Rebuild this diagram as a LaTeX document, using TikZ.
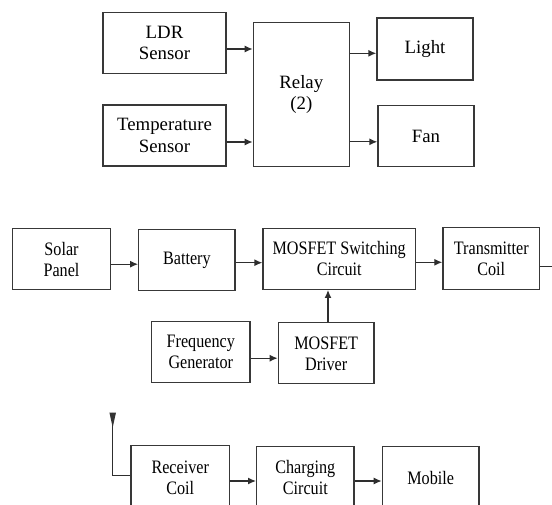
\documentclass[tikz,border=0pt]{standalone}
\usepackage{fontspec}
\setmainfont{Liberation Serif}
\newfontfamily\narrowserif[FakeStretch=0.85]{Liberation Serif}
\usetikzlibrary{arrows.meta}

\begin{document}
\begin{tikzpicture}[x=1pt, y=-1pt,
    blk/.style={draw=black!78, line width=1.3pt, inner sep=0pt, align=center,
        minimum width=97pt, minimum height=61pt, font=\narrowserif\fontsize{19}{21}\selectfont},
    big/.style={font=\fontsize{18.8}{21.5}\selectfont},
    wire/.style={line width=1.3pt, draw=black!82},
    arr/.style={wire, -{Latex[length=8pt,width=7pt]}}]

    \useasboundingbox (0,0) rectangle (552,504);
    \clip (0,0) rectangle (552,504);

    % Relay part
    \node[blk, big, minimum width=123pt] (ldr) at (164.5,43) {LDR\\Sensor};
    \node[blk, big, minimum width=123pt] (temp) at (164.5,135.5) {Temperature\\Sensor};
    \node[blk, big, minimum width=96pt, minimum height=144pt] (relay) at (301.3,94.7) {Relay\\(2)};
    \node[blk, big, minimum width=96pt, minimum height=62pt] (light) at (425,49) {Light};
    \node[blk, big, minimum width=96pt] (fan) at (426,136.3) {Fan};

    \draw[arr] ([yshift=-6pt]ldr.east) -- ([yshift=-6pt]ldr.east -| relay.west);
    \draw[arr] ([yshift=-6.5pt]temp.east) -- ([yshift=-6.5pt]temp.east -| relay.west);
    \draw[arr] ([yshift=-4.3pt]light.west -| relay.east) -- ([yshift=-4.3pt]light.west);
    \draw[arr] ([yshift=-5.5pt]fan.west -| relay.east) -- ([yshift=-5.5pt]fan.west);

    % Transmitter part
    \node[blk, minimum width=98.4pt] (solar) at (61.5,259.2) {Solar\\Panel};
    \node[blk, minimum width=96.3pt] (battery) at (186.9,260) {Battery};
    \node[blk, minimum width=152.3pt] (mosfet) at (339.2,258.8) {MOSFET Switching\\Circuit};
    \node[blk, minimum width=96.7pt, minimum height=62pt] (tx) at (491.3,258.3) {Transmitter\\Coil};
    \node[blk, minimum width=98.3pt] (freq) at (200.8,352.2) {Frequency\\Generator};
    \node[blk, minimum width=95.7pt] (driver) at (326.2,353.3) {MOSFET\\Driver};

    \draw[arr] ([yshift=-5pt]solar.east) -- ([yshift=-5pt]solar.east -| battery.west);
    \draw[arr] ([yshift=-2.7pt]battery.east) -- ([yshift=-2.7pt]battery.east -| mosfet.west);
    \draw[arr] ([yshift=-3.5pt]mosfet.east) -- ([yshift=-3.5pt]mosfet.east -| tx.west);
    \draw[arr] ([yshift=-6pt]freq.east) -- ([yshift=-6pt]freq.east -| driver.west);
    \draw[arr] ([xshift=1.8pt]driver.north) -- ([xshift=1.8pt]driver.north |- mosfet.south);

    \coordinate (txend) at (556,266.7);
    \draw[wire] (tx.east |- txend) -- (txend);

    % Receiver part
    \node[blk, minimum width=98.3pt, minimum height=64pt] (rx) at (180.2,477.7) {Receiver\\Coil};
    \node[blk, minimum width=97.3pt, minimum height=62pt] (charge) at (305.3,477.7) {Charging\\Circuit};
    \node[blk, minimum width=96.7pt, minimum height=62pt] (mobile) at (430.7,477.7) {Mobile};

    \draw[arr] ([yshift=-3.3pt]rx.east) -- ([yshift=-3.3pt]rx.east -| charge.west);
    \draw[arr] ([yshift=-3.3pt]charge.east) -- ([yshift=-3.3pt]charge.east -| mobile.west);

    \coordinate (ant) at (112.7,412.5);
    \coordinate (bend) at (112.7,475.3);
    \draw[wire] (ant) -- (bend) -- (bend -| rx.west);
    \fill[black!80] (ant) ++(-3.3,0) -- ++(6.6,0) -- ++(-3.3,15) -- cycle;

\end{tikzpicture}
\end{document}
